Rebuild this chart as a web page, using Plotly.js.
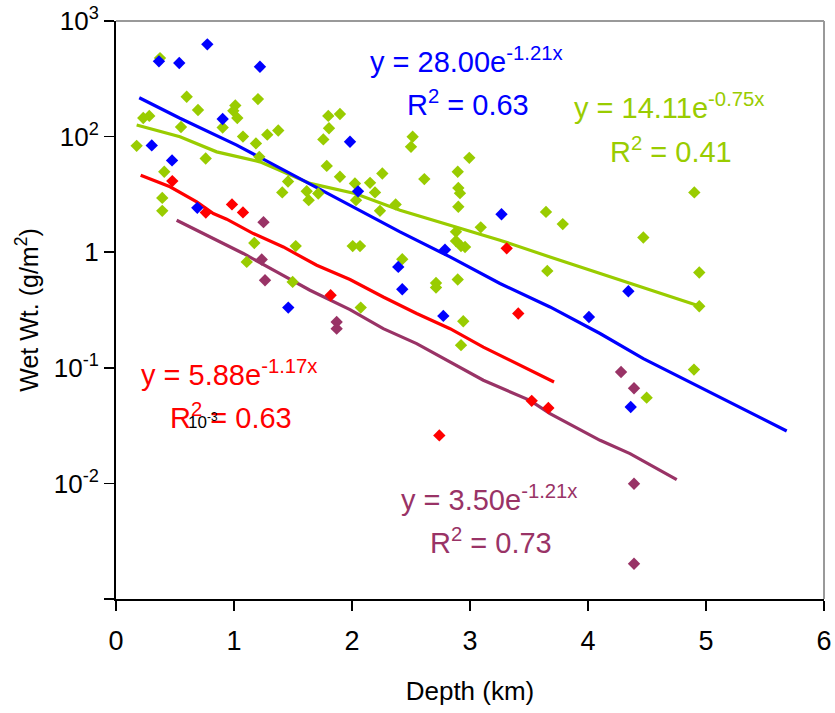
<!DOCTYPE html>
<html>
<head>
<meta charset="utf-8">
<script src="https://cdn.plot.ly/plotly-3.0.1.min.js"></script>
<style>html,body{margin:0;padding:0;background:#fff;}#chart{width:835px;height:713px;}</style>
</head>
<body>
<div id="chart"></div>
<script>
// ---- data (depth km, wet weight g/m^2) ----
const depthGreen = [0.373,0.599,0.695,0.282,0.231,0.551,1.203,1.011,0.994,1.028,0.904,1.076,1.282,1.375,1.186,0.175,0.760,1.214,0.409,0.392,0.392,1.458,1.409,1.616,1.633,1.714,1.799,1.898,1.805,1.757,1.786,1.898,2.025,2.034,2.514,2.500,2.994,2.257,2.613,2.896,2.153,2.901,2.915,2.195,2.370,2.901,2.237,3.644,4.901,3.786,3.091,2.881,2.881,2.924,2.958,2.006,2.068,2.426,3.655,2.712,2.712,2.896,2.074,2.943,2.924,4.469,4.943,4.943,4.898,4.497,1.172,1.108,1.523,1.497];
const wetGreen   = [47.8,22.1,17.0,15.1,14.5,12.1,21.1,18.6,16.7,14.5,12.0,10.0,10.4,11.3,8.73,8.32,6.47,6.68,4.96,2.95,2.28,4.09,3.29,3.37,2.82,3.22,15.1,15.7,11.8,9.46,5.58,4.49,3.93,2.82,9.96,8.16,6.55,4.80,4.29,4.96,3.98,3.60,3.24,3.29,2.59,2.47,2.28,2.23,3.29,1.75,1.64,1.50,1.25,1.13,1.11,1.13,1.13,0.870,0.689,0.542,0.495,0.580,0.332,0.253,0.157,1.34,0.667,0.341,0.0965,0.0552,1.20,0.824,1.13,0.553];

const depthBlue = [0.774,0.364,0.536,1.220,0.904,0.303,1.983,0.475,2.051,0.689,3.267,2.788,2.392,2.426,1.460,2.774,4.008,4.342,4.362];
const wetBlue   = [62.8,44.8,43.3,40.2,14.2,8.39,9.02,6.22,3.36,2.42,2.13,1.05,0.746,0.478,0.332,0.281,0.275,0.459,0.0458];

const depthRed = [0.477,0.761,0.983,1.076,1.819,3.311,3.409,2.740,3.523,3.664];
const wetRed   = [4.12,2.20,2.59,2.21,0.424,1.08,0.295,0.0260,0.0518,0.0449];

const depthPurple = [1.250,1.235,1.263,1.870,1.870,4.280,4.390,4.390,4.390];
const wetPurple   = [1.82,0.865,0.572,0.249,0.218,0.0920,0.0665,0.00994,0.00202];

// ---- trendlines ----
const fitDepthBlue = [0.197,0.542,1.023,1.531,2.068,2.407,2.831,3.254,3.678,4.102,4.469,5.006,5.684];
const fitWetBlue   = [21.7,14.4,8.44,4.49,2.31,1.50,0.91,0.536,0.336,0.198,0.120,0.0638,0.0284];

const fitDepthGreen = [0.175,0.542,0.853,1.220,1.644,2.025,2.407,2.831,3.254,3.678,4.102,4.497,4.949];
const fitWetGreen   = [12.6,9.96,7.38,6.05,3.94,3.22,2.31,1.71,1.27,0.91,0.654,0.485,0.341];

const fitDepthRed = [0.209,0.458,0.684,0.825,0.938,1.164,1.418,1.701,1.983,2.265,2.548,2.831,3.113,3.396,3.712];
const fitWetRed   = [4.64,3.68,2.72,2.16,1.93,1.45,1.11,0.771,0.580,0.410,0.295,0.218,0.151,0.109,0.0754];

const fitDepthPurple = [0.514,0.797,1.079,1.362,1.644,1.983,2.265,2.548,2.831,3.113,3.508,3.678,4.102,4.356,4.752];
const fitWetPurple   = [1.89,1.36,0.975,0.675,0.469,0.319,0.218,0.162,0.112,0.078,0.0523,0.0401,0.0236,0.0181,0.0108];

const yTickVals = [100,10,1,0.1,0.01,0.001];
const yTickText = ['10<sup>3</sup>','10<sup>2</sup>','1','10<sup>-1</sup>','10<sup>-2</sup>',''];
const xTickVals = [0,1,2,3,4,5,6];

const GREEN = '#99CC00', BLUE = '#0000FF', RED = '#FF0000', PURPLE = '#993366';
const FONT = 'Liberation Sans, Arial, Helvetica, sans-serif';

function line(x, y, c) {
  return {x: x, y: y, type: 'scatter', mode: 'lines', line: {color: c, width: 3.2}, hoverinfo: 'skip', showlegend: false};
}
function pts(x, y, c) {
  return {x: x, y: y, type: 'scatter', mode: 'markers', marker: {symbol: 'diamond', size: 9.5, color: c, line: {width: 0}}, showlegend: false};
}

const traces = [
  line(fitDepthGreen, fitWetGreen, GREEN),
  line(fitDepthBlue, fitWetBlue, BLUE),
  line(fitDepthRed, fitWetRed, RED),
  line(fitDepthPurple, fitWetPurple, PURPLE),
  pts(depthGreen, wetGreen, GREEN),
  pts(depthBlue, wetBlue, BLUE),
  pts(depthRed, wetRed, RED),
  pts(depthPurple, wetPurple, PURPLE)
];

// plot area in pixels: left 116, right 824, top 21, bottom 599
const L = 116, R = 824, T = 21, B = 599;
function px(x) { return (x - L) / (R - L); }
function py(y) { return (B - y) / (B - T); }
function ann(text, x, y, color, size) {
  return {text: text, xref: 'paper', yref: 'paper', x: px(x), y: py(y), xanchor: 'center', yanchor: 'middle',
          showarrow: false, font: {family: FONT, size: size || 29, color: color}};
}

const layout = {
  width: 835, height: 713,
  margin: {l: L, r: 835 - R, t: T, b: 713 - B, pad: 0},
  paper_bgcolor: '#fff', plot_bgcolor: '#fff',
  font: {family: FONT, color: '#000'},
  showlegend: false,
  xaxis: {
    range: [0, 6], tickvals: xTickVals, ticks: 'outside', ticklen: 10, tickwidth: 1.5, tickcolor: '#000',
    showline: true, linecolor: '#000', linewidth: 2, showgrid: false, zeroline: false,
    ticklabelstandoff: 7,
    tickfont: {family: FONT, size: 27, color: '#000'},
    title: {text: 'Depth (km)', font: {family: FONT, size: 26, color: '#000'}, standoff: 26}
  },
  yaxis: {
    type: 'log', range: [-3, 2], tickvals: yTickVals, ticktext: yTickText,
    ticks: 'outside', ticklen: 10, tickwidth: 1.5, tickcolor: '#000',
    showline: true, linecolor: '#000', linewidth: 2, showgrid: false, zeroline: false,
    tickfont: {family: FONT, size: 26, color: '#000'},
    title: {text: 'Wet Wt. (g/m<sup>2</sup>)', font: {family: FONT, size: 25, color: '#000'}, standoff: 8}
  },
  shapes: [
    {type: 'line', xref: 'paper', yref: 'paper', x0: 0, x1: 1, y0: 1, y1: 1, line: {color: '#999', width: 2}},
    {type: 'line', xref: 'paper', yref: 'paper', x0: 1, x1: 1, y0: 0, y1: 1, line: {color: '#999', width: 2}}
  ],
  annotations: [
    ann('y = 28.00e<sup>-1.21x</sup>', 466, 60, BLUE),
    ann('R<sup>2</sup> = 0.63', 468, 103, BLUE),
    ann('y = 14.11e<sup>-0.75x</sup>', 669, 106, GREEN),
    ann('R<sup>2</sup> = 0.41', 671, 150, GREEN),
    ann('y = 5.88e<sup>-1.17x</sup>', 229, 373, RED),
    ann('R<sup>2</sup> = 0.63', 231, 416, RED),
    ann('10<sup>-3</sup>', 203, 421, '#000', 17),
    ann('y = 3.50e<sup>-1.21x</sup>', 489, 498, PURPLE),
    ann('R<sup>2</sup> = 0.73', 491, 541, PURPLE)
  ]
};

Plotly.newPlot('chart', traces, layout, {staticPlot: true, displayModeBar: false});
</script>
</body>
</html>
